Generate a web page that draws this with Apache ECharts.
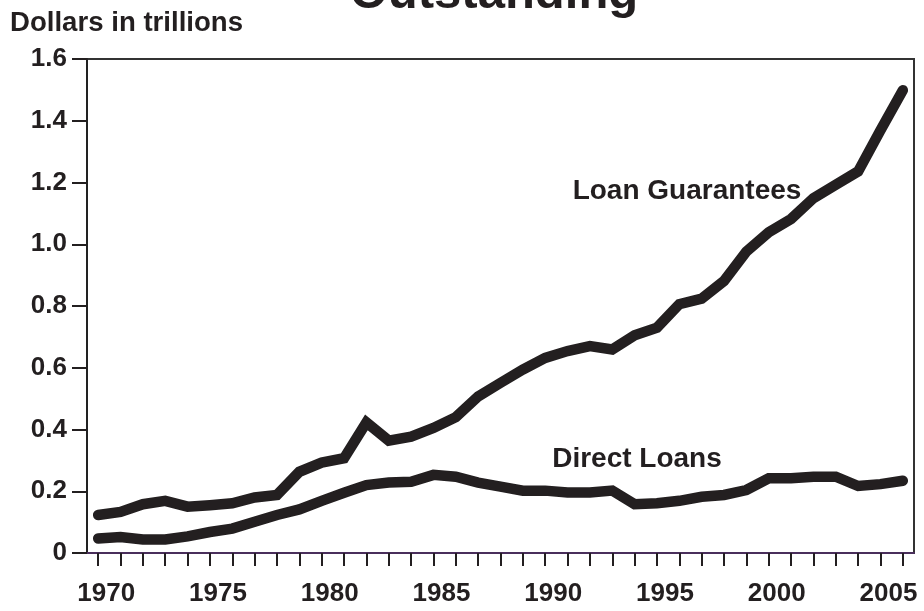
<!DOCTYPE html>
<html>
<head>
<meta charset="utf-8">
<script src="https://cdn.jsdelivr.net/npm/echarts@6/dist/echarts.min.js"></script>
<style>
  html, body { margin: 0; padding: 0; background: #fff; }
  #chart { width: 924px; height: 611px; }
</style>
</head>
<body>
<div id="chart"></div>
<script>
// fiscal years, one tick each
const years = [1970, 1971, 1972, 1973, 1974, 1975, 1976, 1977, 1978, 1979,
  1980, 1981, 1982, 1983, 1984, 1985, 1986, 1987, 1988, 1989,
  1990, 1991, 1992, 1993, 1994, 1995, 1996, 1997, 1998, 1999,
  2000, 2001, 2002, 2003, 2004, 2005, 2006];
const yearLabels = [1970, 1975, 1980, 1985, 1990, 1995, 2000, 2005];

// dollars in trillions
const loanGuarantees = [0.123, 0.133, 0.158, 0.169, 0.150, 0.155, 0.161, 0.180, 0.188, 0.263,
  0.293, 0.307, 0.423, 0.364, 0.377, 0.405, 0.440, 0.507, 0.551, 0.594,
  0.632, 0.654, 0.670, 0.659, 0.705, 0.730, 0.806, 0.824, 0.881, 0.976,
  1.039, 1.082, 1.149, 1.193, 1.236, 1.369, 1.499];
const directLoans = [0.047, 0.052, 0.044, 0.044, 0.054, 0.068, 0.079, 0.101, 0.123, 0.141,
  0.169, 0.195, 0.220, 0.228, 0.231, 0.253, 0.247, 0.228, 0.215, 0.202,
  0.202, 0.196, 0.196, 0.202, 0.158, 0.161, 0.169, 0.182, 0.188, 0.204,
  0.242, 0.242, 0.247, 0.247, 0.217, 0.223, 0.234];

const ink = '#231f20';
const fontFamily = '"Liberation Sans", Arial, Helvetica, sans-serif';

let myChart = echarts.init(document.getElementById('chart'), null, { renderer: 'canvas' });

function pairs(values) {
  return years.map((y, i) => [y, values[i]]);
}

const lineStyle = { color: ink, width: 10.5, cap: 'round', join: 'miter' };

let option = {
  backgroundColor: '#fff',
  animation: false,
  grid: {
    left: 87,
    right: 10,
    top: 59,
    bottom: 58,
    show: true,
    borderColor: '#333',
    borderWidth: 2
  },
  xAxis: {
    type: 'value',
    min: 1969.5,
    max: 2006.5,
    splitLine: { show: false },
    axisLine: { show: true, lineStyle: { color: '#4a2f5c', width: 2 } },
    axisTick: {
      show: true,
      length: 13,
      customValues: years,
      lineStyle: { color: ink, width: 2 }
    },
    axisLabel: {
      customValues: yearLabels,
      margin: 28,
      padding: [0, 0, 0, 16],
      color: ink,
      fontSize: 26,
      fontWeight: 'bold',
      fontFamily: fontFamily,
      formatter: v => String(v)
    }
  },
  yAxis: {
    type: 'value',
    min: 0,
    max: 1.6,
    interval: 0.2,
    splitLine: { show: false },
    axisLine: { show: true, lineStyle: { color: '#222', width: 2 } },
    axisTick: { show: true, length: 15, lineStyle: { color: ink, width: 2 } },
    axisLabel: {
      margin: 20,
      color: ink,
      fontSize: 26,
      fontWeight: 'bold',
      fontFamily: fontFamily,
      formatter: v => (v === 0 ? '0' : v.toFixed(1))
    }
  },
  graphic: [
    {
      type: 'text', x: 494, y: -6,
      style: { text: 'Outstanding', font: 'bold 49px ' + fontFamily, fill: ink, align: 'center', verticalAlign: 'middle' }
    },
    {
      type: 'text', x: 10, y: 23,
      style: { text: 'Dollars in trillions', font: 'bold 27.6px ' + fontFamily, fill: ink, align: 'left', verticalAlign: 'middle' }
    },
    {
      type: 'text', x: 687, y: 191,
      style: { text: 'Loan Guarantees', font: 'bold 28px ' + fontFamily, fill: ink, align: 'center', verticalAlign: 'middle' }
    },
    {
      type: 'text', x: 637, y: 459,
      style: { text: 'Direct Loans', font: 'bold 28px ' + fontFamily, fill: ink, align: 'center', verticalAlign: 'middle' }
    }
  ],
  series: [
    {
      name: 'Loan Guarantees',
      type: 'line',
      data: pairs(loanGuarantees),
      showSymbol: false,
      lineStyle: lineStyle
    },
    {
      name: 'Direct Loans',
      type: 'line',
      data: pairs(directLoans),
      showSymbol: false,
      lineStyle: lineStyle
    }
  ]
};
myChart.setOption(option);
</script>
</body>
</html>
